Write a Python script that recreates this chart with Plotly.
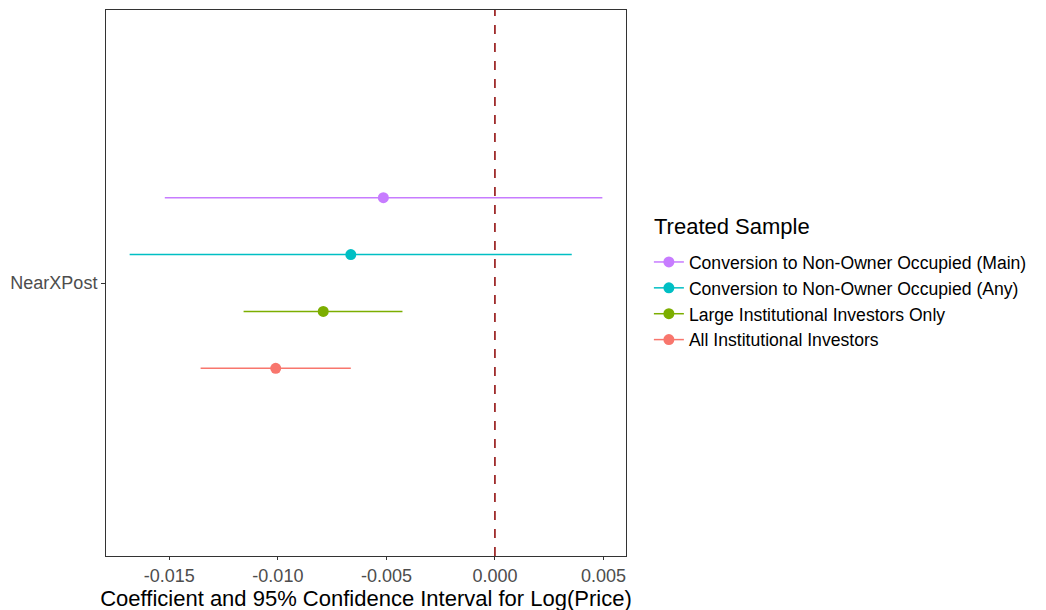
"""Coefficient plot: NearXPost estimates with 95% confidence intervals."""

import plotly.graph_objects as go

# Treated samples, in legend order (top to bottom)
samples = [
    "Conversion to Non-Owner Occupied (Main)",
    "Conversion to Non-Owner Occupied (Any)",
    "Large Institutional Investors Only",
    "All Institutional Investors",
]
estimates = [-0.00514, -0.00664, -0.00791, -0.01010]
ci_low = [-0.01521, -0.01683, -0.01158, -0.01356]
ci_high = [0.00495, 0.00354, -0.00426, -0.00664]
colors = ["#C77CFF", "#00BFC4", "#7CAE00", "#F8766D"]

term = "NearXPost"
x_ticks = [-0.015, -0.010, -0.005, 0.000, 0.005]
x_tick_labels = ["-0.015", "-0.010", "-0.005", "0.000", "0.005"]

FONT = "Liberation Sans, Arial, Helvetica, sans-serif"

fig = go.Figure()

# dodge the four estimates around the single term (ggplot position_dodge)
n = len(samples)
dodge = 0.5
for i, (name, est, lo, hi, col) in enumerate(zip(samples, estimates, ci_low, ci_high, colors)):
    y = 1 + (n - 1 - i - (n - 1) / 2) * dodge / n
    fig.add_trace(
        go.Scatter(
            x=[lo, hi],
            y=[y, y],
            mode="lines",
            line=dict(color=col, width=1.5),
            legendgroup=name,
            showlegend=False,
            hoverinfo="skip",
        )
    )
    fig.add_trace(
        go.Scatter(
            x=[est],
            y=[y],
            mode="lines+markers",
            name=name,
            marker=dict(color=col, size=11),
            line=dict(color=col, width=1.5),
            legendgroup=name,
            hovertemplate=f"<b>{name}</b><br>Estimate: %{{x:.4f}}<extra></extra>",
        )
    )

fig.add_vline(x=0, line=dict(color="#8B0000", width=1.5, dash="dash"))

lo_all, hi_all = min(ci_low), max(ci_high)
pad = (hi_all - lo_all) * 0.05

# legend title drawn as an annotation so the gap above the keys matches
fig.add_annotation(
    text="Treated Sample",
    xref="paper", yref="paper",
    x=1.05, y=0.604,
    xanchor="left", yanchor="middle",
    showarrow=False,
    font=dict(size=22, color="#000000"),
)

# page body adds ~8px offset, margins compensate
fig.update_layout(
    width=1046,
    height=610,
    paper_bgcolor="white",
    plot_bgcolor="white",
    margin=dict(l=98, r=428, t=2, b=62),
    font=dict(family=FONT, size=18, color="#000000"),
    legend=dict(
        x=1.044,
        xanchor="left",
        y=0.467,
        yanchor="middle",
        font=dict(size=17.6, color="#000000"),
        tracegroupgap=0,
        itemwidth=30,
    ),
    showlegend=True,
)
fig.update_xaxes(
    range=[lo_all - pad, hi_all + pad],
    tickvals=x_ticks,
    ticktext=x_tick_labels,
    ticks="outside",
    ticklen=3,
    tickcolor="#333333",
    tickfont=dict(size=18, color="#4D4D4D"),
    showgrid=False,
    zeroline=False,
    showline=True,
    linecolor="#333333",
    linewidth=1,
    mirror=True,
    title=dict(text="Coefficient and 95% Confidence Interval for Log(Price)",
               font=dict(size=22, color="#000000"), standoff=0),
)
fig.update_yaxes(
    range=[0.4, 1.6],
    tickvals=[1],
    ticktext=[term],
    ticks="outside",
    ticklen=4,
    tickcolor="#333333",
    tickfont=dict(size=18, color="#4D4D4D"),
    showgrid=False,
    zeroline=False,
    showline=True,
    linecolor="#333333",
    linewidth=1,
    mirror=True,
)

fig.write_html("out.html")
